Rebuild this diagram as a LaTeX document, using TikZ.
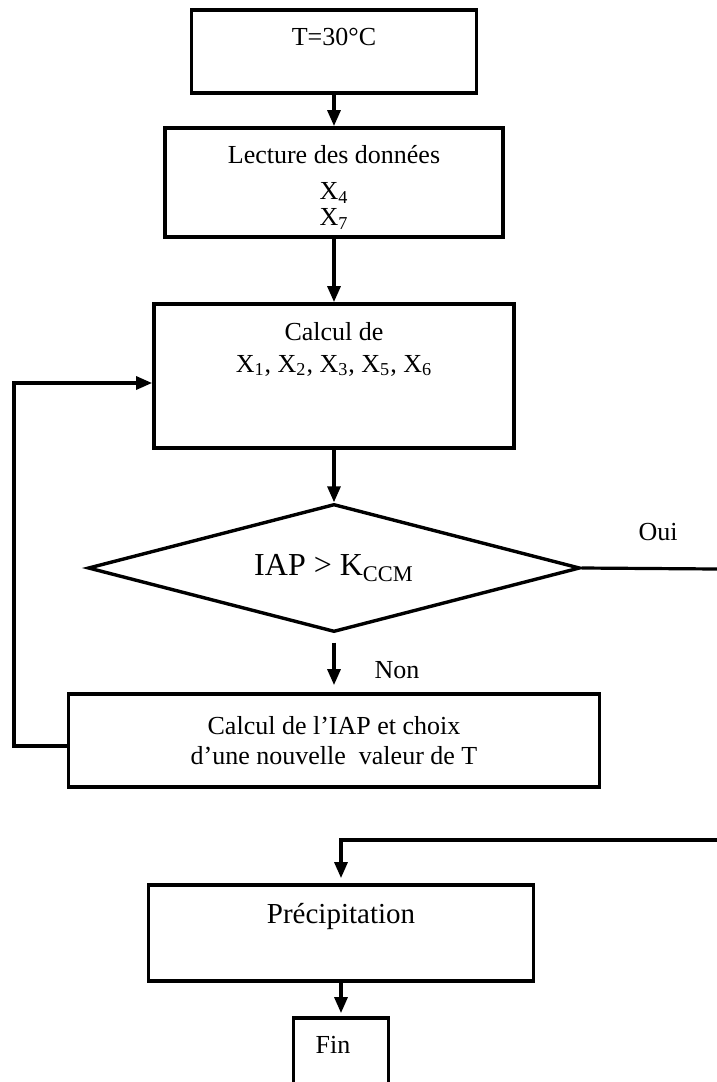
\documentclass[tikz,border=0pt]{standalone}
\usepackage{fontspec}
\setmainfont{Liberation Serif}
\usetikzlibrary{shapes.geometric,arrows.meta}
\tikzset{
  block/.style={draw,line width=1.9pt,inner sep=0pt,align=center,font=\fontsize{13}{15}\selectfont},
  decision/.style={draw,diamond,shape aspect=3.8,line width=1.7pt,inner sep=0pt,font=\fontsize{16}{18}\selectfont},
  caption/.style={inner sep=0pt,align=center,font=\fontsize{13}{15}\selectfont},
  flow/.style={line width=1.6pt,-{Triangle[length=8pt,width=6.5pt]}},
  wire/.style={line width=1.6pt}
}

\begin{document}
\begin{tikzpicture}[x=0.5pt,y=-0.5pt]
  \useasboundingbox (0,0) rectangle (717,1082);
  \node[block,minimum width=142.5pt,minimum height=41.5pt] (init) at (334,51.5) {};
  \node[caption] (init-t) at ([yshift=-14.5pt]init.north) {T=30°C};
  \node[block,minimum width=169pt,minimum height=54.5pt] (lecture) at (334,182.5) {};
  \node[caption] (lecture-t) at ([yshift=-2.5pt]lecture.center)
    {Lecture des données\\[3pt] X\textsubscript{4}\\[-2pt] X\textsubscript{7}};
  \node[block,minimum width=180pt,minimum height=72pt] (calcul) at (334,376) {};
  \node[caption] (calcul-t) at ([yshift=13.5pt]calcul.center)
    {Calcul de\\[1pt] X\textsubscript{1}, X\textsubscript{2}, X\textsubscript{3}, X\textsubscript{5}, X\textsubscript{6}};
  \node[decision,minimum width=246pt,minimum height=64pt] (test) at (334,568) {IAP > K\textsubscript{CCM}};
  \node[block,minimum width=265.5pt,minimum height=46.5pt] (iap) at (334,740.5)
    {Calcul de l’IAP et choix\\d’une nouvelle\ \ valeur de T};
  \node[block,minimum width=192.5pt,minimum height=48pt] (precip) at (341,933) {};
  \node[caption,font=\fontsize{14.5}{17}\selectfont] (precip-t) at ([yshift=8.5pt]precip.center) {Précipitation};
  \node[block,minimum width=47.5pt,minimum height=46pt] (fin) at (341,1064) {};
  \node[caption] (fin-t) at ([xshift=-4pt,yshift=-14.5pt]fin.north) {Fin};
  \node[caption] (oui) at (658,532) {Oui};
  \node[caption] (non) at (397,670) {Non};

  \coordinate (loop) at (14,746);
  \coordinate (oui-end) at (717,569);
  \coordinate (back-in) at (717,840);

  \draw[flow] (init) -- (lecture);
  \draw[flow] (lecture) -- (calcul);
  \draw[flow] (calcul) -- (test);
  \draw[flow,shorten <=4.5pt,shorten >=3.5pt] (test.south) -- (iap.north);
  \draw[flow] (iap.west |- loop) -- (loop) |- ([yshift=-3.5pt]calcul.west);
  \draw[wire] (test.east) -- (oui-end);
  \draw[flow,shorten >=2.5pt] (back-in) -| (precip.north);
  \draw[flow,shorten >=1.5pt] (precip) -- (fin);
\end{tikzpicture}
\end{document}
